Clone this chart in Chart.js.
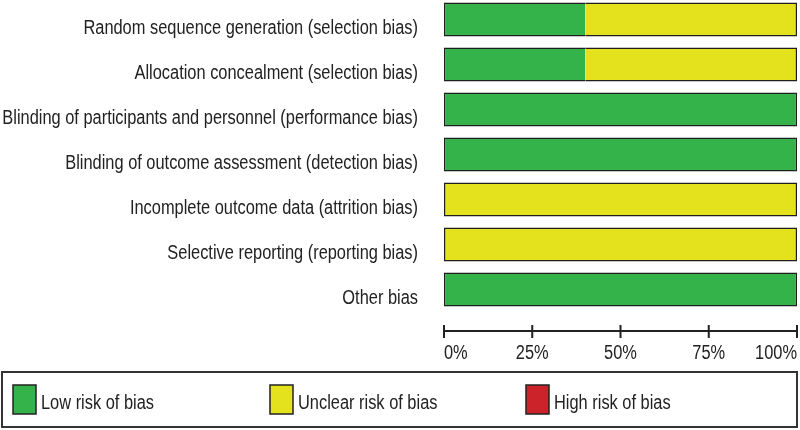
<!DOCTYPE html>
<html>
<head>
<meta charset="utf-8">
<script src="https://cdn.jsdelivr.net/npm/chart.js@4"></script>
<style>
  html, body { margin: 0; padding: 0; background: #fff; }
  #wrap { position: relative; width: 800px; height: 430px; overflow: hidden; }
  /* bars start a few px above the top edge in the original */
  #chart { position: absolute; left: 0; top: -3px; }
</style>
</head>
<body>
<div id="wrap"><canvas id="chart" width="800" height="433"></canvas></div>
<script>
const categories = [
  'Random sequence generation (selection bias)',
  'Allocation concealment (selection bias)',
  'Blinding of participants and personnel (performance bias)',
  'Blinding of outcome assessment (detection bias)',
  'Incomplete outcome data (attrition bias)',
  'Selective reporting (reporting bias)',
  'Other bias'
];
const lowRisk     = [40, 40, 100, 100, 0, 0, 100];
const unclearRisk = [60, 60, 0, 0, 100, 100, 0];
const highRisk    = [0, 0, 0, 0, 0, 0, 0];
const seriesNames = ['Low risk of bias', 'Unclear risk of bias', 'High risk of bias'];
const xTicks = [0, 25, 50, 75, 100];
const xTickLabels = ['0%', '25%', '50%', '75%', '100%'];

const colors = ['#34b34a', '#e3e21d', '#cc2229'];
const ink = '#222';
const font = "20px 'Liberation Sans', Arial, sans-serif";
const narrow = 0.82; // no Arial Narrow here, so squeeze Liberation Sans

// outline whole bar, but no line between the stacked pieces
const edge = 1.5;
function borders(ds) {
  return (ctx) => {
    const i = ctx.dataIndex;
    const segs = [lowRisk[i], unclearRisk[i], highRisk[i]];
    const first = segs.findIndex(v => v > 0);
    let last = first;
    segs.forEach((v, k) => { if (v > 0) last = k; });
    return {
      top: edge, bottom: edge,
      left: ds === first ? edge : 0,
      right: ds === last ? edge : 0
    };
  };
}

function narrowText(c, text, x, y, align) {
  c.save();
  c.translate(x, y);
  c.scale(narrow, 1);
  c.textAlign = align;
  c.fillText(text, 0, 0);
  c.restore();
}

const labelsAxisLegend = {
  id: 'labelsAxisLegend',
  afterDraw(chart) {
    const c = chart.ctx;
    const x = chart.scales.x;
    const y = chart.scales.y;
    const shift = 3; // canvas sits 3px above the page
    c.save();
    c.fillStyle = ink;
    c.font = font;
    c.textBaseline = 'alphabetic';

    // category labels
    categories.forEach((name, i) => {
      narrowText(c, name, chart.chartArea.left - 26, y.getPixelForValue(i) + 14, 'right');
    });

    // value axis, set apart below the bars
    const axisY = 331 + shift;
    c.strokeStyle = ink;
    c.lineWidth = 2;
    c.beginPath();
    c.moveTo(x.getPixelForValue(xTicks[0]), axisY);
    c.lineTo(x.getPixelForValue(xTicks[xTicks.length - 1]), axisY);
    xTicks.forEach(v => {
      const px = x.getPixelForValue(v);
      c.moveTo(px, axisY - 6);
      c.lineTo(px, axisY + 7);
    });
    c.stroke();
    xTicks.forEach((v, k) => {
      const px = x.getPixelForValue(v);
      const align = k === 0 ? 'left' : (k === xTicks.length - 1 ? 'right' : 'center');
      narrowText(c, xTickLabels[k], px, 359 + shift, align);
    });

    // legend box
    c.lineWidth = 2;
    c.strokeStyle = '#333';
    c.strokeRect(2, 372 + shift, 795, 55);
    const slots = [13, 270, 526];
    chart.data.datasets.forEach((ds, k) => {
      c.fillStyle = ds.backgroundColor;
      c.fillRect(slots[k], 385 + shift, 23, 29);
      c.lineWidth = 1.5;
      c.strokeStyle = '#222';
      c.strokeRect(slots[k], 385 + shift, 23, 29);
      c.fillStyle = ink;
      narrowText(c, ds.label, slots[k] + 28, 409 + shift, 'left');
    });
    c.restore();
  }
};

new Chart(document.getElementById('chart'), {
  type: 'bar',
  data: {
    labels: categories,
    datasets: [lowRisk, unclearRisk, highRisk].map((d, k) => ({
      label: seriesNames[k],
      data: d,
      backgroundColor: colors[k],
      borderColor: '#1e1e1e',
      borderWidth: borders(k),
      borderSkipped: false,
      barPercentage: 0.76,
      categoryPercentage: 1
    }))
  },
  options: {
    indexAxis: 'y',
    responsive: false,
    animation: false,
    layout: { padding: { top: 0, bottom: 118, left: 444, right: 3 } },
    plugins: { legend: { display: false }, tooltip: { enabled: false } },
    scales: {
      x: { display: false, stacked: true, min: 0, max: 100 },
      y: { display: false, stacked: true }
    }
  },
  plugins: [labelsAxisLegend]
});
</script>
</body>
</html>
